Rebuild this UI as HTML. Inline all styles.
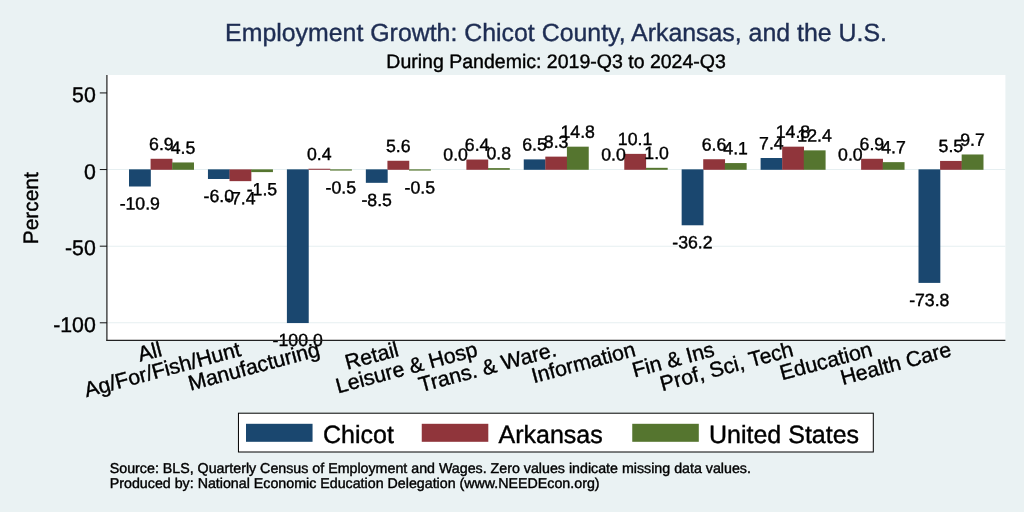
<!DOCTYPE html>
<html lang="en"><head><meta charset="utf-8"><title>Employment Growth: Chicot County, Arkansas, and the U.S.</title>
<style>html,body{margin:0;padding:0;background:#EAF2F3;}body{width:1024px;height:512px;overflow:hidden;}svg{display:block;}text{font-family:"Liberation Sans",sans-serif;fill:#000;stroke:#000;stroke-width:0.4px;text-rendering:geometricPrecision;}</style></head><body>
<svg width="1024" height="512" viewBox="0 0 1024 512">
<rect x="0" y="0" width="1024" height="512" fill="#EAF2F3"/>
<rect x="107.00" y="75.00" width="898.40" height="265.40" fill="#fff"/>
<line x1="107.00" x2="1005.40" y1="169.55" y2="169.55" stroke="#E6EFF1" stroke-width="1.1"/>
<line x1="107.00" x2="1005.40" y1="246.18" y2="246.18" stroke="#E6EFF1" stroke-width="1.1"/>
<line x1="107.00" x2="1005.40" y1="322.80" y2="322.80" stroke="#E6EFF1" stroke-width="1.1"/>
<rect x="129.00" y="169.35" width="21.83" height="17.15" fill="#1A476F"/>
<rect x="150.58" y="158.78" width="21.83" height="11.02" fill="#90353B"/>
<rect x="172.16" y="162.45" width="21.83" height="7.35" fill="#55752F"/>
<rect x="207.95" y="169.35" width="21.83" height="9.64" fill="#1A476F"/>
<rect x="229.53" y="169.35" width="21.83" height="11.79" fill="#90353B"/>
<rect x="251.11" y="169.35" width="21.83" height="2.75" fill="#55752F"/>
<rect x="286.90" y="169.35" width="21.83" height="153.70" fill="#1A476F"/>
<rect x="308.48" y="168.74" width="21.83" height="1.06" fill="#90353B"/>
<rect x="330.06" y="169.35" width="21.83" height="1.22" fill="#55752F"/>
<rect x="365.85" y="169.35" width="21.83" height="13.48" fill="#1A476F"/>
<rect x="387.43" y="160.77" width="21.83" height="9.03" fill="#90353B"/>
<rect x="409.01" y="169.35" width="21.83" height="1.22" fill="#55752F"/>
<rect x="466.38" y="159.54" width="21.83" height="10.26" fill="#90353B"/>
<rect x="487.96" y="168.12" width="21.83" height="1.68" fill="#55752F"/>
<rect x="523.75" y="159.39" width="21.83" height="10.41" fill="#1A476F"/>
<rect x="545.33" y="156.63" width="21.83" height="13.17" fill="#90353B"/>
<rect x="566.91" y="146.67" width="21.83" height="23.13" fill="#55752F"/>
<rect x="624.28" y="153.87" width="21.83" height="15.93" fill="#90353B"/>
<rect x="645.86" y="167.82" width="21.83" height="1.98" fill="#55752F"/>
<rect x="681.65" y="169.35" width="21.83" height="55.93" fill="#1A476F"/>
<rect x="703.23" y="159.24" width="21.83" height="10.56" fill="#90353B"/>
<rect x="724.81" y="163.07" width="21.83" height="6.73" fill="#55752F"/>
<rect x="760.60" y="158.01" width="21.83" height="11.79" fill="#1A476F"/>
<rect x="782.18" y="146.67" width="21.83" height="23.13" fill="#90353B"/>
<rect x="803.76" y="150.35" width="21.83" height="19.45" fill="#55752F"/>
<rect x="861.13" y="158.78" width="21.83" height="11.02" fill="#90353B"/>
<rect x="882.71" y="162.15" width="21.83" height="7.65" fill="#55752F"/>
<rect x="918.50" y="169.35" width="21.83" height="113.55" fill="#1A476F"/>
<rect x="940.08" y="160.92" width="21.83" height="8.88" fill="#90353B"/>
<rect x="961.66" y="154.48" width="21.83" height="15.32" fill="#55752F"/>
<text transform="translate(139.79,209.55) rotate(0.03)" font-size="17.70" text-anchor="middle">-10.9</text>
<text transform="translate(161.37,149.98) rotate(0.03)" font-size="17.70" text-anchor="middle">6.9</text>
<text transform="translate(182.95,153.65) rotate(0.03)" font-size="17.70" text-anchor="middle">4.5</text>
<text transform="translate(218.74,202.05) rotate(0.03)" font-size="17.70" text-anchor="middle">-6.0</text>
<text transform="translate(240.32,204.19) rotate(0.03)" font-size="17.70" text-anchor="middle">-7.4</text>
<text transform="translate(261.90,195.15) rotate(0.03)" font-size="17.70" text-anchor="middle">-1.5</text>
<text transform="translate(297.69,346.10) rotate(0.03)" font-size="17.70" text-anchor="middle">-100.0</text>
<text transform="translate(319.27,159.94) rotate(0.03)" font-size="17.70" text-anchor="middle">0.4</text>
<text transform="translate(340.85,193.62) rotate(0.03)" font-size="17.70" text-anchor="middle">-0.5</text>
<text transform="translate(376.64,205.88) rotate(0.03)" font-size="17.70" text-anchor="middle">-8.5</text>
<text transform="translate(398.22,151.97) rotate(0.03)" font-size="17.70" text-anchor="middle">5.6</text>
<text transform="translate(419.80,193.62) rotate(0.03)" font-size="17.70" text-anchor="middle">-0.5</text>
<text transform="translate(455.59,160.55) rotate(0.03)" font-size="17.70" text-anchor="middle">0.0</text>
<text transform="translate(477.17,150.74) rotate(0.03)" font-size="17.70" text-anchor="middle">6.4</text>
<text transform="translate(498.75,159.32) rotate(0.03)" font-size="17.70" text-anchor="middle">0.8</text>
<text transform="translate(534.54,150.59) rotate(0.03)" font-size="17.70" text-anchor="middle">6.5</text>
<text transform="translate(556.12,147.83) rotate(0.03)" font-size="17.70" text-anchor="middle">8.3</text>
<text transform="translate(577.70,137.87) rotate(0.03)" font-size="17.70" text-anchor="middle">14.8</text>
<text transform="translate(613.49,160.55) rotate(0.03)" font-size="17.70" text-anchor="middle">0.0</text>
<text transform="translate(635.07,145.07) rotate(0.03)" font-size="17.70" text-anchor="middle">10.1</text>
<text transform="translate(656.65,159.02) rotate(0.03)" font-size="17.70" text-anchor="middle">1.0</text>
<text transform="translate(692.44,248.33) rotate(0.03)" font-size="17.70" text-anchor="middle">-36.2</text>
<text transform="translate(714.02,150.44) rotate(0.03)" font-size="17.70" text-anchor="middle">6.6</text>
<text transform="translate(735.60,154.27) rotate(0.03)" font-size="17.70" text-anchor="middle">4.1</text>
<text transform="translate(771.39,149.21) rotate(0.03)" font-size="17.70" text-anchor="middle">7.4</text>
<text transform="translate(792.97,137.87) rotate(0.03)" font-size="17.70" text-anchor="middle">14.8</text>
<text transform="translate(814.55,141.55) rotate(0.03)" font-size="17.70" text-anchor="middle">12.4</text>
<text transform="translate(850.34,160.55) rotate(0.03)" font-size="17.70" text-anchor="middle">0.0</text>
<text transform="translate(871.92,149.98) rotate(0.03)" font-size="17.70" text-anchor="middle">6.9</text>
<text transform="translate(893.50,153.35) rotate(0.03)" font-size="17.70" text-anchor="middle">4.7</text>
<text transform="translate(929.29,305.95) rotate(0.03)" font-size="17.70" text-anchor="middle">-73.8</text>
<text transform="translate(950.87,152.12) rotate(0.03)" font-size="17.70" text-anchor="middle">5.5</text>
<text transform="translate(972.45,145.68) rotate(0.03)" font-size="17.70" text-anchor="middle">9.7</text>
<line x1="106.90" x2="106.90" y1="75.00" y2="341.00" stroke="#2e2e2e" stroke-width="1.3"/>
<line x1="106.40" x2="1005.40" y1="340.40" y2="340.40" stroke="#222" stroke-width="1.2"/>
<line x1="99.80" x2="107.00" y1="92.93" y2="92.93" stroke="#111" stroke-width="1"/>
<text x="95.8" y="102.15" font-size="21.30" text-anchor="end">50</text>
<line x1="99.80" x2="107.00" y1="169.55" y2="169.55" stroke="#111" stroke-width="1"/>
<text x="95.8" y="178.78" font-size="21.30" text-anchor="end">0</text>
<line x1="99.80" x2="107.00" y1="246.18" y2="246.18" stroke="#111" stroke-width="1"/>
<text x="95.8" y="255.40" font-size="21.30" text-anchor="end">-50</text>
<line x1="99.80" x2="107.00" y1="322.80" y2="322.80" stroke="#111" stroke-width="1"/>
<text x="95.8" y="332.03" font-size="21.30" text-anchor="end">-100</text>
<text transform="translate(38.0,208.3) rotate(-90)" font-size="20.90" text-anchor="middle">Percent</text>
<text x="556.0" y="40.8" font-size="24.88" text-anchor="middle" style="fill:#1E2D53;stroke:#1E2D53">Employment Growth: Chicot County, Arkansas, and the U.S.</text>
<text x="556.1" y="68" font-size="19.53" text-anchor="middle">During Pandemic: 2019-Q3 to 2024-Q3</text>
<text transform="translate(162.97,355.70) rotate(-15)" font-size="21.30" text-anchor="end">All</text>
<text transform="translate(241.92,355.70) rotate(-15)" font-size="21.30" text-anchor="end">Ag/For/Fish/Hunt</text>
<text transform="translate(320.87,355.70) rotate(-15)" font-size="21.30" text-anchor="end">Manufacturing</text>
<text transform="translate(399.82,355.70) rotate(-15)" font-size="21.30" text-anchor="end">Retail</text>
<text transform="translate(478.77,355.70) rotate(-15)" font-size="21.30" text-anchor="end">Leisure &amp; Hosp</text>
<text transform="translate(557.72,355.70) rotate(-15)" font-size="21.30" text-anchor="end">Trans. &amp; Ware.</text>
<text transform="translate(636.67,355.70) rotate(-15)" font-size="21.30" text-anchor="end">Information</text>
<text transform="translate(715.62,355.70) rotate(-15)" font-size="21.30" text-anchor="end">Fin &amp; Ins</text>
<text transform="translate(794.57,355.70) rotate(-15)" font-size="21.30" text-anchor="end">Prof, Sci, Tech</text>
<text transform="translate(873.52,355.70) rotate(-15)" font-size="21.30" text-anchor="end">Education</text>
<text transform="translate(952.47,355.70) rotate(-15)" font-size="21.30" text-anchor="end">Health Care</text>
<rect x="238.45" y="413.2" width="634.85" height="38.8" fill="#fff" stroke="#000" stroke-width="1"/>
<rect x="246.00" y="423.8" width="66.55" height="18" fill="#1A476F"/>
<text x="323.00" y="442.6" font-size="25.00">Chicot</text>
<rect x="421.75" y="423.8" width="66.55" height="18" fill="#90353B"/>
<text x="498.50" y="442.6" font-size="25.00">Arkansas</text>
<rect x="632.25" y="423.8" width="66.55" height="18" fill="#55752F"/>
<text x="709.00" y="442.6" font-size="25.00">United States</text>
<text x="109.8" y="472.95" font-size="14.24">Source: BLS, Quarterly Census of Employment and Wages. Zero values indicate missing data values.</text>
<text x="109.8" y="487.75" font-size="14.24">Produced by: National Economic Education Delegation (www.NEEDEcon.org)</text>
</svg></body></html>
